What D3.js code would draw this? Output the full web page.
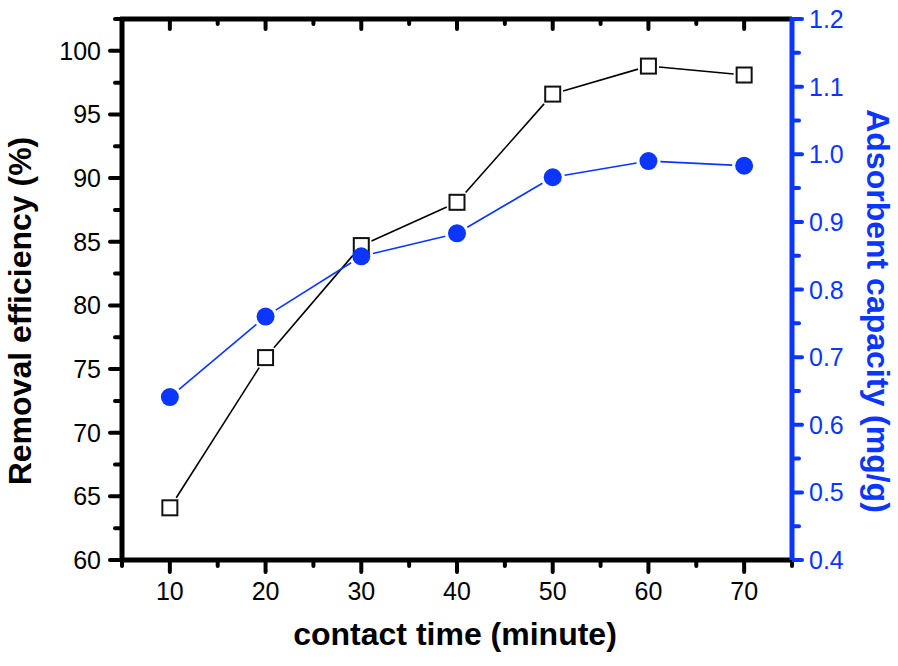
<!DOCTYPE html>
<html>
<head>
<meta charset="utf-8">
<script src="https://cdn.jsdelivr.net/npm/d3@7"></script>
<style>
  html, body { margin: 0; padding: 0; background: #fff; }
  svg { display: block; font-family: "Liberation Sans", Arial, sans-serif; }
</style>
</head>
<body>
<svg id="chart" width="898" height="666"></svg>
<script>
// ---- data ----
const contactTime = [10, 20, 30, 40, 50, 60, 70];
const removalEfficiency = [64.1, 75.9, 84.7, 88.1, 96.6, 98.8, 98.1];
const adsorbentCapacity = [0.641, 0.760, 0.849, 0.883, 0.966, 0.990, 0.983];
const xTicks = [10, 20, 30, 40, 50, 60, 70];
const leftTicks = [60, 65, 70, 75, 80, 85, 90, 95, 100];
const rightTicks = [0.4, 0.5, 0.6, 0.7, 0.8, 0.9, 1.0, 1.1, 1.2];

const BLUE = "#0a36ff";
const svg = d3.select("#chart");
const L = 122, R = 792, T = 19, B = 560;

const x = d3.scaleLinear().domain([5, 75]).range([L, R]);
const yL = d3.scaleLinear().domain([60, 102.5]).range([B, T]);
const yR = d3.scaleLinear().domain([0.4, 1.2]).range([B, T]);

const xMinor = d3.range(5, 76, 10);
const lMinor = d3.range(62.5, 103, 5);
const rMinor = d3.range(0.45, 1.2, 0.1);

function ticks(g, vals, fn, color, w) {
  g.selectAll(null).data(vals).enter().append("line")
    .each(function(d) { const c = fn(d); d3.select(this).attr("x1", c[0]).attr("y1", c[1]).attr("x2", c[2]).attr("y2", c[3]); })
    .attr("stroke", color).attr("stroke-width", w).attr("stroke-linecap", "round");
}

const ax = svg.append("g");
// bottom axis
ticks(ax, xTicks, d => [x(d), B, x(d), B + 12], "#000", 4);
ticks(ax, xMinor, d => [x(d), B, x(d), B + 6], "#000", 4);
// top axis (inward ticks)
ticks(ax, xTicks, d => [x(d), T, x(d), T + 10], "#000", 4);
ticks(ax, xMinor, d => [x(d), T, x(d), T + 5], "#000", 4);
// left axis
ticks(ax, leftTicks, d => [L, yL(d), L - 12, yL(d)], "#000", 4);
ticks(ax, lMinor, d => [L, yL(d), L - 7, yL(d)], "#000", 4);
// right axis
ticks(ax, rightTicks, d => [R, yR(d), R + 10, yR(d)], BLUE, 4);
ticks(ax, rMinor, d => [R, yR(d), R + 7, yR(d)], BLUE, 4);

ax.append("line").attr("x1", L - 2).attr("x2", R).attr("y1", B).attr("y2", B).attr("stroke", "#000").attr("stroke-width", 5);
ax.append("line").attr("x1", L - 2).attr("x2", R).attr("y1", T).attr("y2", T).attr("stroke", "#000").attr("stroke-width", 5);
ax.append("line").attr("x1", L).attr("x2", L).attr("y1", T - 2).attr("y2", B + 2).attr("stroke", "#000").attr("stroke-width", 5);
ax.append("line").attr("x1", R).attr("x2", R).attr("y1", T - 2).attr("y2", B).attr("stroke", BLUE).attr("stroke-width", 5);

// tick labels
const lab = svg.append("g").attr("font-size", 25);
lab.selectAll(null).data(xTicks).enter().append("text")
  .attr("x", d => x(d)).attr("y", 600).attr("text-anchor", "middle").attr("fill", "#000").text(d => d);
lab.selectAll(null).data(leftTicks).enter().append("text")
  .attr("x", 101).attr("y", d => yL(d) + 9).attr("text-anchor", "end").attr("fill", "#000").text(d => d);
lab.selectAll(null).data(rightTicks).enter().append("text")
  .attr("x", 809).attr("y", d => yR(d) + 9).attr("text-anchor", "start").attr("fill", BLUE).text(d => d.toFixed(1));

// axis titles
svg.append("text").attr("x", 455).attr("y", 645).attr("text-anchor", "middle")
  .attr("font-size", 32).attr("font-weight", "bold").attr("fill", "#000").text("contact time (minute)");
svg.append("text").attr("transform", "translate(31,311) rotate(-90)").attr("text-anchor", "middle")
  .attr("font-size", 32).attr("font-weight", "bold").attr("fill", "#000").text("Removal efficiency (%)");
svg.append("text").attr("transform", "translate(867,311) rotate(90)").attr("text-anchor", "middle")
  .attr("font-size", 32).attr("font-weight", "bold").attr("fill", BLUE).text("Adsorbent capacity (mg/g)");

// series with gapped connecting lines
const SQ = 7.5, CR = 9, GAP = 3;
function gapFor(kind, dx, dy) {
  const len = Math.hypot(dx, dy);
  if (kind === "sq") return SQ / Math.max(Math.abs(dx) / len, Math.abs(dy) / len) + GAP;
  return CR + GAP;
}
function drawSeries(vals, yS, color, kind) {
  const pts = contactTime.map((t, i) => [x(t), yS(vals[i])]);
  const g = svg.append("g");
  for (let i = 0; i < pts.length - 1; i++) {
    const [x0, y0] = pts[i], [x1, y1] = pts[i + 1];
    const dx = x1 - x0, dy = y1 - y0, len = Math.hypot(dx, dy);
    const gp = gapFor(kind, dx, dy);
    if (len <= 2 * gp) continue;
    const ux = dx / len, uy = dy / len;
    g.append("line")
      .attr("x1", x0 + ux * gp).attr("y1", y0 + uy * gp)
      .attr("x2", x1 - ux * gp).attr("y2", y1 - uy * gp)
      .attr("stroke", color).attr("stroke-width", 1.6);
  }
  if (kind === "sq") {
    g.selectAll(null).data(pts).enter().append("rect")
      .attr("x", d => d[0] - SQ).attr("y", d => d[1] - SQ)
      .attr("width", 2 * SQ).attr("height", 2 * SQ)
      .attr("fill", "#fff").attr("stroke", "#111").attr("stroke-width", 2);
  } else {
    g.selectAll(null).data(pts).enter().append("circle")
      .attr("cx", d => d[0]).attr("cy", d => d[1]).attr("r", CR)
      .attr("fill", BLUE);
  }
}
drawSeries(removalEfficiency, yL, "#000", "sq");
drawSeries(adsorbentCapacity, yR, BLUE, "ci");
</script>
</body>
</html>
